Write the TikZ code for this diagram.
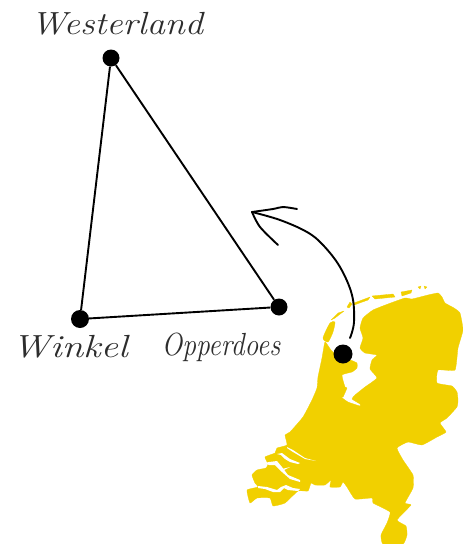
\documentclass[tikz,border=0pt]{standalone}
\usepackage{graphicx}
\usepackage{fontspec}
\definecolor{mapyellow}{RGB}{241,208,0}
\definecolor{inkgrey}{RGB}{45,45,45}
\tikzset{
  dot/.style={circle,fill=black,inner sep=0pt,minimum size=#1},
  edge/.style={line width=1.9pt,black},
  sketch/.style={line width=1.9pt,black,line cap=round,line join=round},
  place/.style={font=\fontsize{32}{32}\selectfont\itshape,text=inkgrey,inner sep=0pt},
  land/.style={fill=mapyellow,draw=mapyellow,line width=.3pt,line join=round},
  water/.style={fill=white,line join=round},
}
\begin{document}
\begin{tikzpicture}[x=1pt,y=-1pt]
\useasboundingbox (0,0) rectangle (463,544);
% mainland
\path[land] plot[smooth cycle,tension=.25] coordinates {
 (325,342)(331,350)(343,362)(350,360)(357,363)(357,368)(352,372)(342,375)(345,387)(347,388)(343,397)(341,397)(348,402)(360,406)(360,404)(352,399)(355,395)(365,387)(377,378)(370,369)(372,360)(377,355)(365,353)(360,348)(363,338)(360,328)(363,318)(373,310)(388,304)(405,298)(412,299)(428,295)(438,293)(442,297)(445,303)(454,308)(460,313)(463,330)(458,348)(455,370)(438,370)(437,383)(452,386)(457,392)(458,400)(457,407)(447,418)(440,423)(446,432)(437,437)(422,445)(408,442)(397,448)(403,460)(413,475)(413,488)(405,503)(411,505)(397,520)(406,526)(407,535)(403,544)(383,544)(381,535)(387,523)(390,512)(373,503)(372,498)(355,499)(347,487)(343,482)(340,487)(330,487)(331,480)(325,485)(315,485)(311,483)(308,491)(298,491)(285,503)(273,506)(270,498)(257,498)(250,503)(247,490)(258,487)(255,483)(252,475)(257,470)(266,468)(268,464)(265,457)(275,453)(277,448)(287,445)(285,435)(290,432)(303,417)(312,400)(317,388)(318,377)(322,358)};
% Wadden islands
\path[land] plot[smooth cycle,tension=.4] coordinates {(323,338)(330,323)(335,322)(333,332)(328,342)};
\path[land] (331,320)--(338,313)--(344,311)--(335,318)--cycle;
\path[land] (347,307)--(350,302)--(352,304)--(349,308)--cycle;
\path[land] (354,303)--(370,297)--(368,300)--(354,305)--cycle;
\path[land] (372,296)--(393,294)--(395,297)--(375,299)--cycle;
\path[land] (401,292)--(412,290)--(411,293)--(402,296)--cycle;
\path[land] (418,287)--(421,286)--(420,289)--cycle;
\path[land] (424,286)--(427,287)--(425,289)--cycle;
% estuaries
\path[water] (258,486)--(267,487)--(277,490)--(281,487)--(286,485)--(293,488)--(300,489)--(298,491)--(288,490)--(284,488)--(280,492)--(273,492)--(265,489)--(258,488)--cycle;
\path[water] (265,463)--(269,462)--(277,461)--(282,467)--(288,475)--(300,480)--(300,482)--(290,479)--(282,472)--(275,465)--(269,465)--cycle;
\path[water] (282,469)--(290,467)--(284,470)--cycle;
\path[water] (277,454)--(282,453)--(286,456)--(290,459)--(300,463)--(298,464)--(290,462)--(285,459)--(281,455)--cycle;
\path[water] (287,447)--(293,450)--(305,458)--(316,461)--(305,459)--(293,452)--(287,448)--cycle;
% places
\node[dot=17pt] (west) at (111,58) {};
\node[dot=18pt] (wink) at (80,319) {};
\node[dot=17pt] (opp) at (279,307) {};
\node[dot=19pt] (mapdot) at (343,354) {};
\node[place] (lwest) at (117,24) {\scalebox{1.135}[1]{Westerland}};
\node[place] (lwink) at (70,347) {\scalebox{1.215}[1]{Winkel}};
\node[place] (lopp) at (221,347) {\scalebox{.86}[1]{Opperdoes}};
\draw[edge] (west) -- (wink);
\draw[edge] (wink) -- (opp);
\draw[edge] (opp) -- (west);
% arrow
\coordinate (tail) at (350,338);
\coordinate (tip) at (252,212);
\coordinate (barbA) at (278,245);
\coordinate (barbB) at (297,209);
\draw[sketch] plot[smooth,tension=.6] coordinates {(tail)(354,322)(352,295)(340,267)(323,245)(307,232)(280,220)(tip)};
\draw[sketch] plot[smooth,tension=.5] coordinates {(barbA)(260,227)(tip)};
\draw[sketch] plot[smooth,tension=.5] coordinates {(tip)(273,209)(283,207)(barbB)};
\end{tikzpicture}
\end{document}
